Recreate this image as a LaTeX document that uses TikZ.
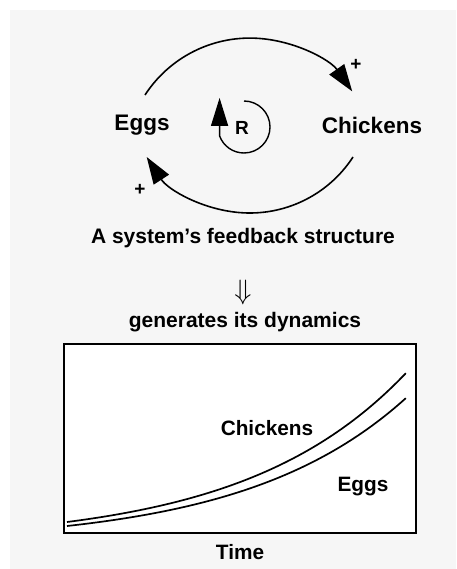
\documentclass[tikz,border=0pt]{standalone}
\usepackage{fontspec}
\newfontfamily\diagfont{Liberation Sans}
\usetikzlibrary{arrows.meta, calc, positioning}
\definecolor{paper}{HTML}{F6F6F6}
\tikzset{
    varLabel/.style={font=\diagfont\bfseries\fontsize{22.5}{24}\selectfont, inner sep=1pt},
    plotLabel/.style={font=\diagfont\bfseries\fontsize{20.8}{22}\selectfont, inner sep=1pt},
    caption/.style={font=\diagfont\bfseries\fontsize{21}{23}\selectfont, inner sep=1pt},
    loopLabel/.style={font=\diagfont\bfseries\fontsize{19}{20}\selectfont, inner sep=1pt},
    signLabel/.style={font=\diagfont\bfseries\fontsize{19}{19}\selectfont, inner sep=0pt},
    causalLink/.style={-{Triangle[length=27pt, width=18pt]}, line width=1.6pt},
    loopArrow/.style={-{Triangle[length=28pt, width=17pt]}, line width=1.4pt},
    plotFrame/.style={draw, line width=1.8pt, fill=white, rectangle, inner sep=0pt},
    growth/.style={line width=1.7pt},
}
% exponential run from (x0,y0) to (x1,y1)
\newcommand{\growthCurve}[4]{
    \draw[growth] plot[domain=0:1, samples=80] ({#1+(#3-#1)*\x}, {#2-(#2-#4)*(exp(2.1*\x)-1)/(exp(2.1)-1)});
}

\begin{document}
\begin{tikzpicture}[x=1pt, y=-1pt]
        \useasboundingbox (0,0) rectangle (456,569);
        \fill[white] (0,0) rectangle (456,569);
        \fill[paper] (10,10) rectangle (456,569);

        \node[varLabel] (eggs) at (142,125) {Eggs};
        \node[varLabel] (chickens) at (372,125) {Chickens};
        \node[loopLabel] (R) at (242,128) {R};
        \node[signLabel] (plusTop) at (356,65) {+};
        \node[signLabel] (plusBot) at (140,190) {+};

        \draw[causalLink] ($(eggs)+(3,-30)$) arc[start angle=-147, end angle=-35, radius=125];
        \draw[causalLink] ($(chickens)+(-19,32)$) arc[start angle=33, end angle=147, radius=123];
        \draw[loopArrow] ($(R)+(2,-27)$) arc[start angle=-90, end angle=160, radius=26] -- ++(0,-38);

        \node[caption] (structure) at (243,238) {A system’s feedback structure};
        \node[inner sep=0pt] (implies) at (243,292) {\scalebox{2.8}{$\Downarrow$}};
        \node[caption] (generates) at (245,322) {generates its dynamics};

        \node[plotFrame, minimum width=352pt, minimum height=189pt] (plot) at (240,438.5) {};
        \growthCurve{67}{522}{406}{373}
        \growthCurve{67}{526}{406}{398}
        \node[plotLabel] (chickensRun) at (267,428) {Chickens};
        \node[plotLabel] (eggsRun) at (363,487) {Eggs};
        \node[plotLabel, below=9pt of plot] (time) {Time};

    \end{tikzpicture}
\end{document}
